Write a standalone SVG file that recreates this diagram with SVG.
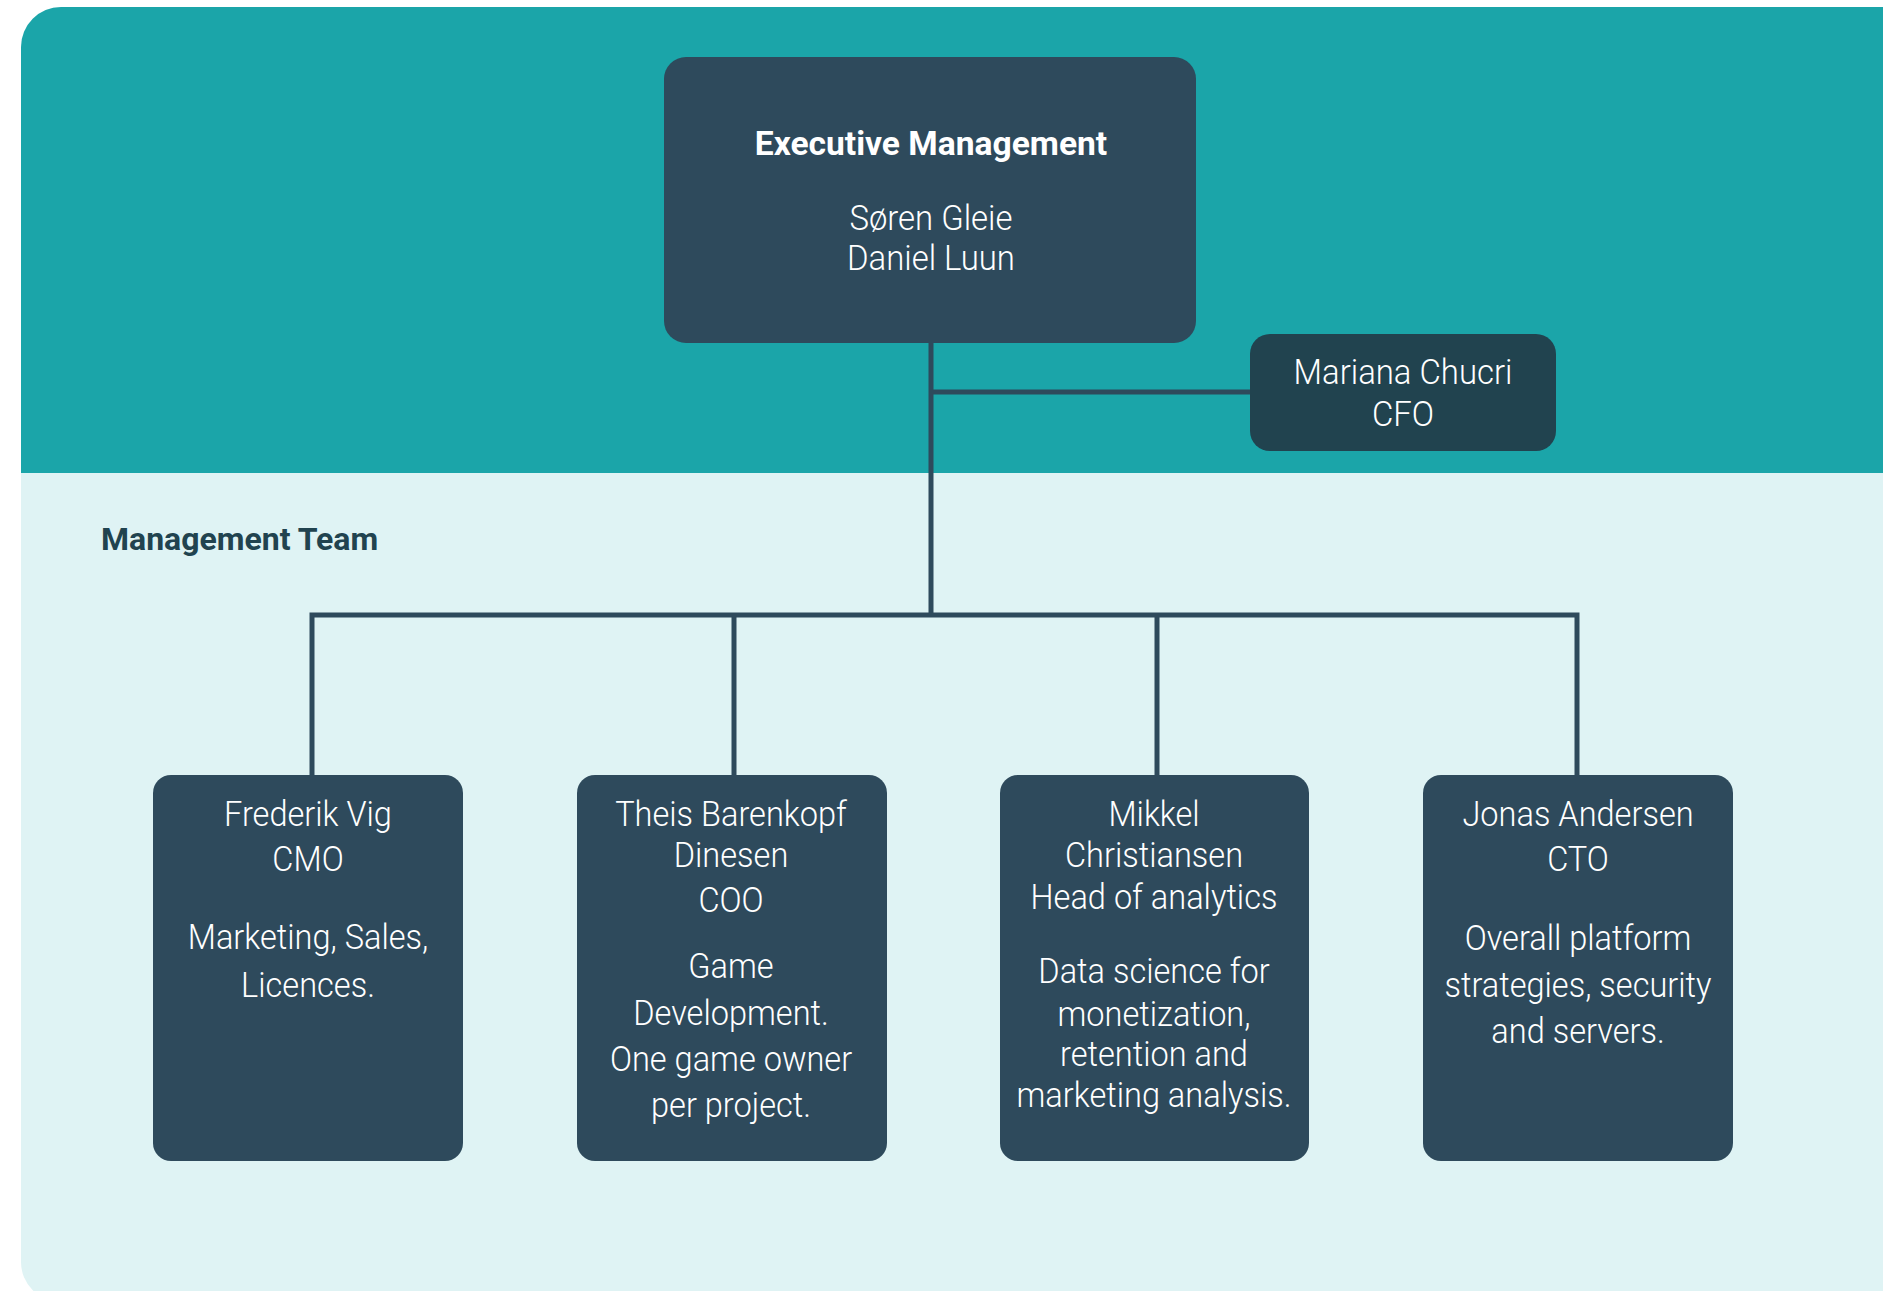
<svg xmlns="http://www.w3.org/2000/svg" width="1883" height="1291" viewBox="0 0 1883 1291">
<style>
.bg-top{fill:#1ba5a9}
.bg-bot{fill:#dff3f4}
.box{fill:#2e4a5c}
.cfo{fill:#21434f}
.t{font-family:Roboto,"Liberation Sans",sans-serif;font-weight:300;font-size:35px;fill:#ffffff;text-anchor:middle}
.b{font-family:Roboto,"Liberation Sans",sans-serif;font-weight:700;font-size:33.6px;fill:#ffffff;text-anchor:middle}
.hdr{font-family:Roboto,"Liberation Sans",sans-serif;font-weight:700;font-size:32px;fill:#21434f}
.ln{stroke:#2e4a5c;stroke-width:5;fill:none}
</style>
<defs>
<clipPath id="panel"><rect x="21" y="7" width="1900" height="1295" rx="40" ry="40"/></clipPath>
</defs>
<g id="background" clip-path="url(#panel)">
<rect class="bg-bot" x="21" y="7" width="1900" height="1300"/>
<rect class="bg-top" x="21" y="7" width="1900" height="466"/>
</g>
<text id="management-team-label" class="hdr" x="101" y="550">Management Team</text>
<g id="connectors">
<path class="ln" d="M931 343 V615"/>
<path class="ln" d="M931 392 H1252"/>
<path class="ln" d="M312 775 V615 H1577 V775"/>
<path class="ln" d="M734 615 V775"/>
<path class="ln" d="M1157 615 V775"/>
</g>
<g id="executive-management">
<rect class="box" x="664" y="57" width="532" height="286" rx="22"/>
<text class="b" x="931" y="155">Executive Management</text>
<g transform="translate(931 0) scale(0.94 1)">
<text class="t" x="0" y="230">Søren Gleie</text>
<text class="t" x="0" y="270">Daniel Luun</text>
</g>
</g>
<g id="cfo">
<rect class="cfo" x="1250" y="334" width="306" height="117" rx="20"/>
<g transform="translate(1403 0) scale(0.94 1)">
<text class="t" x="0" y="384">Mariana Chucri</text>
<text class="t" x="0" y="426">CFO</text>
</g>
</g>
<g id="cmo">
<rect class="box" x="153" y="775" width="310" height="386" rx="18"/>
<g transform="translate(308 0) scale(0.93 1)">
<text class="t" x="0" y="826">Frederik Vig</text>
<text class="t" x="0" y="871">CMO</text>
<text class="t" x="0" y="949">Marketing, Sales,</text>
<text class="t" x="0" y="997">Licences.</text>
</g>
</g>
<g id="coo">
<rect class="box" x="577" y="775" width="310" height="386" rx="18"/>
<g transform="translate(731 0) scale(0.93 1)">
<text class="t" x="0" y="826">Theis Barenkopf</text>
<text class="t" x="0" y="867">Dinesen</text>
<text class="t" x="0" y="912">COO</text>
<text class="t" x="0" y="978">Game</text>
<text class="t" x="0" y="1025">Development.</text>
<text class="t" x="0" y="1071">One game owner</text>
<text class="t" x="0" y="1117">per project.</text>
</g>
</g>
<g id="head-of-analytics">
<rect class="box" x="1000" y="775" width="309" height="386" rx="18"/>
<g transform="translate(1154 0) scale(0.93 1)">
<text class="t" x="0" y="826">Mikkel</text>
<text class="t" x="0" y="867">Christiansen</text>
<text class="t" x="0" y="909">Head of analytics</text>
<text class="t" x="0" y="983">Data science for</text>
<text class="t" x="0" y="1026">monetization,</text>
<text class="t" x="0" y="1066">retention and</text>
<text class="t" x="0" y="1107">marketing analysis.</text>
</g>
</g>
<g id="cto">
<rect class="box" x="1423" y="775" width="310" height="386" rx="18"/>
<g transform="translate(1578 0) scale(0.93 1)">
<text class="t" x="0" y="826">Jonas Andersen</text>
<text class="t" x="0" y="871">CTO</text>
<text class="t" x="0" y="950">Overall platform</text>
<text class="t" x="0" y="997">strategies, security</text>
<text class="t" x="0" y="1043">and servers.</text>
</g>
</g>
</svg>
